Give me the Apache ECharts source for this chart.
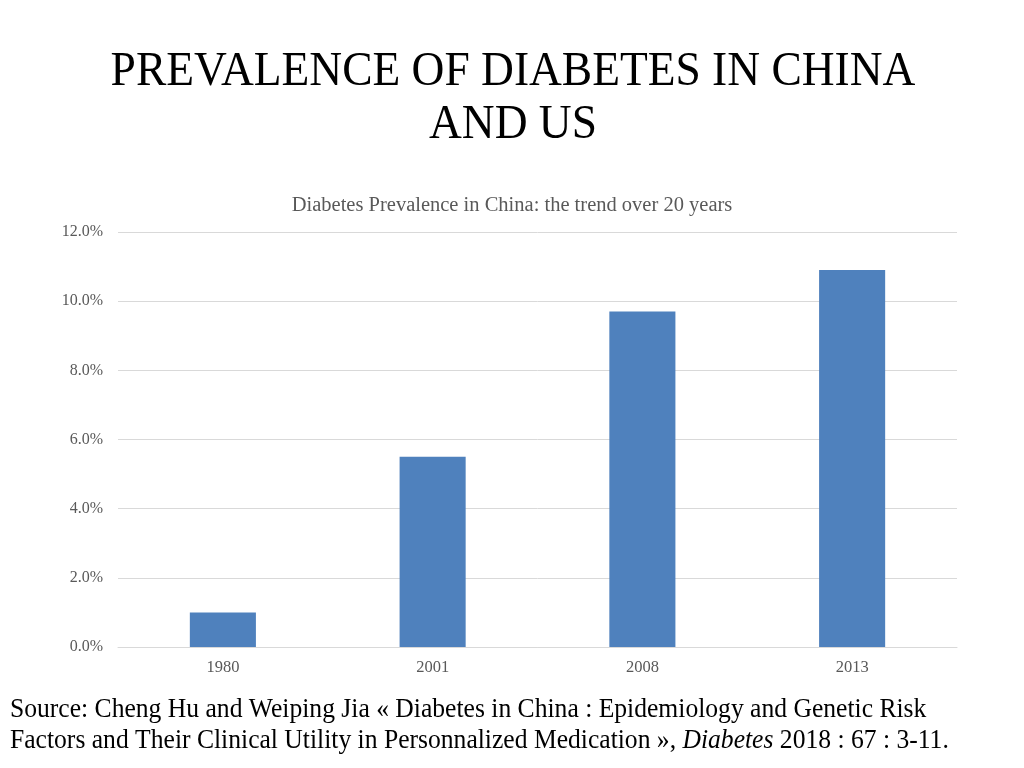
<!DOCTYPE html>
<html><head><meta charset="utf-8">
<script src="https://cdn.jsdelivr.net/npm/echarts@6/dist/echarts.min.js"></script>
<style>html,body{margin:0;padding:0;background:#fff}#c{width:1024px;height:768px}</style>
</head><body><div id="c"></div>
<script>
var categories = ['1980', '2001', '2008', '2013'];
var prevalence = [1.0, 5.5, 9.7, 10.9];
var yTicks = [0, 2, 4, 6, 8, 10, 12];

var serif = '"Liberation Serif", "DejaVu Serif", serif';
var chart = echarts.init(document.getElementById('c'));
chart.setOption({
  animation: false,
  backgroundColor: '#ffffff',
  title: {
    text: 'Diabetes Prevalence in China: the trend over 20 years',
    left: 'center', top: 190,
    textStyle: { fontFamily: serif, fontSize: 20.5, fontWeight: 'normal', color: '#595959' }
  },
  grid: { left: 118, right: 67, top: 232, bottom: 121 },
  xAxis: {
    type: 'category', data: categories,
    axisLine: { lineStyle: { color: '#d9d9d9', width: 1 } },
    axisTick: { show: false },
    axisLabel: { fontFamily: serif, fontSize: 16.5, color: '#595959', margin: 12 }
  },
  yAxis: {
    type: 'value', min: yTicks[0], max: yTicks[yTicks.length - 1], interval: 2,
    axisLine: { show: false }, axisTick: { show: false },
    splitLine: { lineStyle: { color: '#d9d9d9', width: 1 } },
    axisLabel: { fontFamily: serif, fontSize: 16, color: '#595959', margin: 15,
      formatter: function (v) { return v.toFixed(1) + '%'; } }
  },
  series: [{
    type: 'bar', data: prevalence, barWidth: '31.5%',
    itemStyle: { color: '#4f81bd' }
  }],
  graphic: [
    { type: 'text', x: 513, y: 72, scaleX: 0.947, style: {
      text: 'PREVALENCE OF DIABETES IN CHINA', fontFamily: serif, fontSize: 48,
      fill: '#000', align: 'center', verticalAlign: 'middle' } },
    { type: 'text', x: 513, y: 125, scaleX: 0.947, style: {
      text: 'AND US', fontFamily: serif, fontSize: 48,
      fill: '#000', align: 'center', verticalAlign: 'middle' } },
    { type: 'text', x: 10, y: 710, scaleX: 0.948, style: {
      text: 'Source: Cheng Hu and Weiping Jia « Diabetes in China : Epidemiology and Genetic Risk',
      fontFamily: serif, fontSize: 27, fill: '#000', align: 'left', verticalAlign: 'middle' } },
    { type: 'text', x: 10, y: 741, scaleX: 0.948, style: {
      text: 'Factors and Their Clinical Utility in Personnalized Medication », {i|Diabetes} 2018 : 67 : 3-11.',
      fontFamily: serif, fontSize: 27, fill: '#000', align: 'left', verticalAlign: 'middle',
      rich: { i: { fontStyle: 'italic', fontFamily: serif, fontSize: 27, fill: '#000' } } } }
  ]
});
</script></body></html>
